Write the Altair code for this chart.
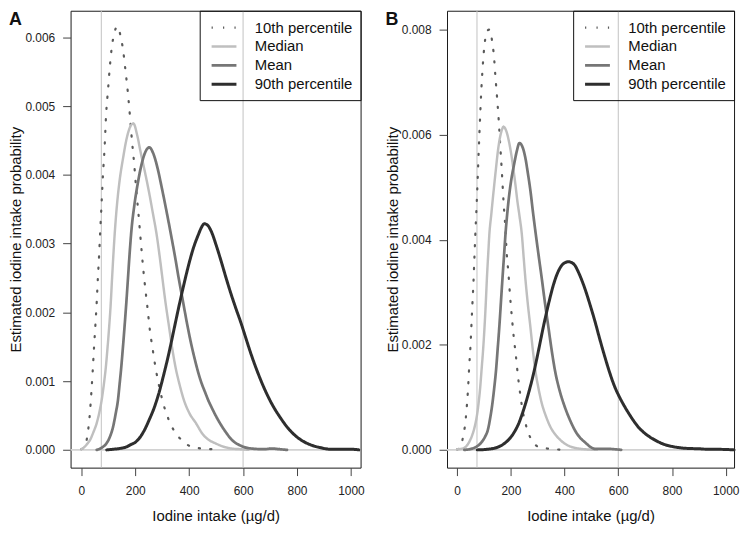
import altair as alt
import pandas as pd

# ---------------- data ----------------
series_names = ["10th percentile", "Median", "Mean", "90th percentile"]
series_colors = ["#5a5a5a", "#bfbfbf", "#767676", "#2e2e2e"]
series_dash = [[1.2, 10.3], [1, 0], [1, 0], [1, 0]]
series_width = [2.2, 3, 3, 3]

panel_labels = ["A", "B"]
x_ticks = [0, 200, 400, 600, 800, 1000]
y_ticks_a = [0.000, 0.001, 0.002, 0.003, 0.004, 0.005, 0.006]
y_ticks_b = [0.000, 0.002, 0.004, 0.006, 0.008]
ref_x = [74, 600]
ref_y = [0]

# Panel A
a_p10_x = [0, 10, 17, 23, 28, 32, 37, 42, 47, 52, 57, 61, 66, 70, 75, 80, 86, 92, 99, 106,
           113, 121, 133, 145, 155, 164, 172, 180, 188, 196, 204, 212, 220, 228, 236, 245,
           254, 264, 276, 290, 305, 325, 347, 373, 406, 446, 490]
a_p10_y = [0.00001, 0.00004, 0.00009, 0.00023, 0.00038, 0.00055, 0.00083, 0.00114, 0.00149,
           0.00181, 0.00215, 0.00248, 0.00284, 0.00318, 0.00358, 0.00399, 0.00438, 0.00489,
           0.00524, 0.00559, 0.00586, 0.00604, 0.00616, 0.00603, 0.00581, 0.00551, 0.00522,
           0.00487, 0.00449, 0.00416, 0.00377, 0.00343, 0.00306, 0.00270, 0.00239, 0.00208,
           0.00175, 0.00148, 0.00118, 0.00090, 0.00066, 0.00043, 0.00026, 0.00014, 0.00005,
           0.00002, 0.00001]

a_med_x = [0, 8, 20, 33, 45, 57, 67, 76, 84, 91, 97, 103, 109, 114, 124, 133, 142, 155, 167,
           180, 193, 207, 221, 236, 252, 265, 279, 290, 300, 312, 325, 337, 349, 365, 380, 400,
           425, 450, 471, 495, 525, 556, 590, 620]
a_med_y = [0.00001, 0.00003, 0.00008, 0.00015, 0.00026, 0.00039, 0.00055, 0.00074, 0.00097,
           0.00121, 0.00148, 0.00178, 0.00213, 0.00250, 0.00316, 0.00360, 0.00392, 0.00425,
           0.00451, 0.00469, 0.00475, 0.00458, 0.00431, 0.00404, 0.00373, 0.00345, 0.00314,
           0.00283, 0.00252, 0.00215, 0.00180, 0.00148, 0.00121, 0.00094, 0.00073, 0.00054,
           0.00039, 0.00023, 0.00015, 0.00010, 0.00005, 0.00002, 0.00001, 0.00000]

a_mean_x = [57, 75, 94, 106, 118, 127, 136, 142, 148, 154, 160, 167, 173, 179, 185, 197, 209,
            222, 236, 252, 267, 282, 297, 313, 334, 348, 361, 377, 392, 407, 422, 434, 446,
            459, 471, 483, 501, 532, 560, 592, 630, 678, 706, 735, 763]
a_mean_y = [0.00000, 0.00003, 0.00010, 0.00019, 0.00034, 0.00052, 0.00073, 0.00096, 0.00120,
            0.00148, 0.00178, 0.00215, 0.00250, 0.00285, 0.00316, 0.00357, 0.00387, 0.00413,
            0.00432, 0.00440, 0.00431, 0.00411, 0.00384, 0.00353, 0.00310, 0.00280, 0.00250,
            0.00216, 0.00184, 0.00155, 0.00130, 0.00112, 0.00097, 0.00084, 0.00072, 0.00062,
            0.00048, 0.00028, 0.00014, 0.00006, 0.00002, 0.00001, 0.00002, 0.00001, 0.00000]

a_p90_x = [94, 120, 142, 165, 185, 200, 215, 233, 252, 270, 288, 306, 325, 343, 361, 380, 398,
           416, 434, 446, 456, 468, 483, 500, 519, 537, 556, 574, 592, 610, 629, 652, 678, 708,
           738, 768, 799, 830, 860, 890, 921, 960, 1000, 1030]
a_p90_y = [0.00000, 0.00001, 0.00002, 0.00004, 0.00008, 0.00011, 0.00017, 0.00028, 0.00044,
           0.00061, 0.00083, 0.00110, 0.00141, 0.00174, 0.00207, 0.00240, 0.00269, 0.00294,
           0.00313, 0.00324, 0.00329, 0.00327, 0.00317, 0.00298, 0.00274, 0.00250, 0.00226,
           0.00205, 0.00185, 0.00163, 0.00140, 0.00115, 0.00090, 0.00066, 0.00047, 0.00031,
           0.00019, 0.00011, 0.00006, 0.00003, 0.00001, 0.00001, 0.00001, 0.00000]

# Panel B
b_p10_x = [0, 10, 16, 24, 31, 35, 40, 45, 50, 54, 57, 61, 64, 68, 72, 76, 80, 85, 90, 95, 101,
           108, 115, 122, 130, 137, 143, 149, 155, 161, 167, 173, 179, 185, 191, 197, 204, 211,
           218, 226, 235, 245, 258, 272, 290, 315, 350, 390]
b_p10_y = [0.00001, 0.00004, 0.00011, 0.00030, 0.00053, 0.00076, 0.00110, 0.00158, 0.00200,
           0.00245, 0.00278, 0.00320, 0.00360, 0.00412, 0.00458, 0.00508, 0.00563, 0.00626,
           0.00683, 0.00727, 0.00766, 0.00791, 0.00799, 0.00800, 0.00779, 0.00750, 0.00708,
           0.00669, 0.00627, 0.00576, 0.00526, 0.00471, 0.00428, 0.00372, 0.00337, 0.00294,
           0.00252, 0.00214, 0.00183, 0.00143, 0.00106, 0.00072, 0.00044, 0.00024, 0.00010,
           0.00004, 0.00002, 0.00000]

b_med_x = [0, 23, 36, 47, 57, 66, 74, 80, 86, 91, 97, 102, 107, 111, 116, 120, 127, 133, 139,
           145, 151, 157, 165, 173, 183, 193, 203, 212, 218, 224, 232, 241, 248, 254, 263, 273,
           282, 291, 303, 315, 330, 346, 366, 388, 410, 437, 480, 520]
b_med_y = [0.00001, 0.00003, 0.00008, 0.00017, 0.00029, 0.00045, 0.00066, 0.00089, 0.00119,
           0.00152, 0.00192, 0.00233, 0.00282, 0.00327, 0.00374, 0.00410, 0.00447, 0.00478,
           0.00508, 0.00537, 0.00565, 0.00587, 0.00606, 0.00615, 0.00607, 0.00587, 0.00558,
           0.00525, 0.00501, 0.00475, 0.00446, 0.00410, 0.00365, 0.00327, 0.00279, 0.00233,
           0.00190, 0.00152, 0.00117, 0.00089, 0.00065, 0.00045, 0.00029, 0.00017, 0.00009,
           0.00004, 0.00001, 0.00000]

b_mean_x = [27, 45, 60, 75, 90, 103, 115, 123, 130, 138, 145, 151, 157, 163, 169, 175, 180,
            186, 193, 202, 212, 222, 232, 243, 254, 263, 273, 283, 294, 304, 315, 327, 340, 352,
            364, 381, 400, 420, 440, 458, 477, 495, 513, 537, 562, 590, 611]
b_mean_y = [0.00000, 0.00001, 0.00003, 0.00007, 0.00014, 0.00024, 0.00039, 0.00060, 0.00083,
            0.00117, 0.00152, 0.00192, 0.00233, 0.00280, 0.00327, 0.00372, 0.00410, 0.00446,
            0.00481, 0.00515, 0.00543, 0.00568, 0.00584, 0.00577, 0.00556, 0.00528, 0.00493,
            0.00450, 0.00406, 0.00368, 0.00327, 0.00280, 0.00233, 0.00190, 0.00152, 0.00114,
            0.00083, 0.00057, 0.00036, 0.00023, 0.00014, 0.00006, 0.00002, 0.00002, 0.00002,
            0.00001, 0.00000]

b_p90_x = [75, 110, 145, 170, 193, 212, 230, 248, 266, 285, 303, 321, 340, 358, 376, 395, 415,
           428, 440, 450, 461, 477, 495, 513, 531, 550, 568, 586, 604, 623, 647, 672, 700, 732,
           768, 805, 850, 903, 940, 976, 1031]
b_p90_y = [0.00000, 0.00001, 0.00004, 0.00010, 0.00020, 0.00033, 0.00051, 0.00077, 0.00108,
           0.00146, 0.00189, 0.00234, 0.00277, 0.00313, 0.00339, 0.00354, 0.00358, 0.00356,
           0.00350, 0.00340, 0.00327, 0.00305, 0.00276, 0.00245, 0.00211, 0.00177, 0.00147,
           0.00121, 0.00101, 0.00083, 0.00063, 0.00045, 0.00031, 0.00020, 0.00011, 0.00006,
           0.00003, 0.00002, 0.00001, 0.00001, 0.00000]

FONT = "Liberation Sans"
X_TITLE = "Iodine intake (µg/d)"
Y_TITLE = "Estimated iodine intake probability"


def long_df(curves):
    rows = []
    for name, (xs, ys) in zip(series_names, curves):
        for xv, yv in zip(xs, ys):
            rows.append({"x": xv, "y": yv, "series": name})
    return pd.DataFrame(rows)


def panel(label, curves, yticks, xdom, ydom, w, h):
    df = long_df(curves)
    xs = alt.Scale(domain=xdom, nice=False, zero=False)
    ys = alt.Scale(domain=ydom, nice=False, zero=False)
    xenc = alt.X("x:Q", scale=xs, title=X_TITLE,
                 axis=alt.Axis(values=x_ticks, format="d", title=X_TITLE))
    yenc = alt.Y("y:Q", scale=ys, title=Y_TITLE,
                 axis=alt.Axis(values=yticks, format=".3f", title=Y_TITLE))
    leg = alt.Legend(orient="top-right", title=None, offset=0, padding=8,
                     strokeColor="#111111", labelFontSize=15, labelFont=FONT,
                     labelColor="#111111", symbolType="M-1.667,0H1.667", symbolSize=225,
                     symbolStrokeWidth=3, rowPadding=2, labelOffset=22,
                     symbolOffset=7.5, labelLimit=300)

    vrules = alt.Chart(pd.DataFrame({"x": ref_x})).mark_rule(
        color="#c2c2c2", strokeWidth=1).encode(x=xenc)
    hrule = alt.Chart(pd.DataFrame({"y": ref_y})).mark_rule(
        color="#d2d2d2", strokeWidth=1.6).encode(y=yenc)
    lines = alt.Chart(df).mark_line(interpolate="monotone", strokeCap="round").encode(
        x=xenc,
        y=yenc,
        color=alt.Color("series:N", sort=series_names,
                        scale=alt.Scale(domain=series_names, range=series_colors), legend=leg),
        strokeDash=alt.StrokeDash("series:N", sort=series_names,
                                  scale=alt.Scale(domain=series_names, range=series_dash),
                                  legend=leg),
        strokeWidth=alt.StrokeWidth("series:N",
                                    scale=alt.Scale(domain=series_names, range=series_width),
                                    legend=None),
    )
    letter = alt.Chart(pd.DataFrame({"label": [label]})).mark_text(
        font=FONT, fontSize=18, fontWeight="bold", align="left", baseline="top",
        color="#111111").encode(text="label:N", x=alt.value(-62), y=alt.value(0))
    return alt.layer(vrules, hrule, lines, letter).properties(width=w, height=h)


panel_a = panel(panel_labels[0],
                [(a_p10_x, a_p10_y), (a_med_x, a_med_y), (a_mean_x, a_mean_y), (a_p90_x, a_p90_y)],
                y_ticks_a, [-40, 1036], [-0.000258, 0.006388], 292, 460)
panel_b = panel(panel_labels[1],
                [(b_p10_x, b_p10_y), (b_med_x, b_med_y), (b_mean_x, b_mean_y), (b_p90_x, b_p90_y)],
                y_ticks_b, [-37.6, 1031], [-0.000338, 0.008357], 289, 460)

chart = alt.hconcat(panel_a, panel_b, spacing=19).resolve_scale(
    color="independent", strokeDash="independent", strokeWidth="independent",
    x="independent", y="independent"
).resolve_legend(color="independent", strokeDash="independent").properties(
    padding=0
).configure_axis(
    labelFont=FONT, titleFont=FONT, labelFontSize=12, titleFontSize=15,
    labelColor="#222222", titleColor="#111111", tickColor="#444444", tickSize=8,
    domain=False, grid=False, labelFlush=False, titleFontWeight="normal"
).configure_axisX(labelPadding=10, titlePadding=12).configure_axisY(
    labelPadding=8, titlePadding=1
).configure_view(stroke="#1a1a1a", strokeWidth=1)

chart.save("out.html", embed_options={"renderer": "svg", "actions": False})
